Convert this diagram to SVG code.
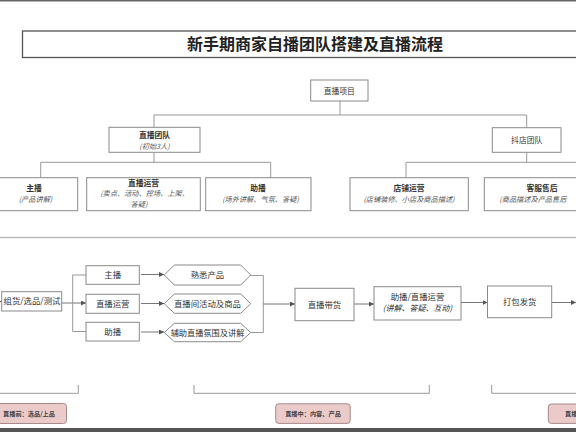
<svg xmlns="http://www.w3.org/2000/svg" width="576" height="432" viewBox="0 0 576 432">
<defs>
<marker id="ah" markerUnits="userSpaceOnUse" markerWidth="5" markerHeight="5" refX="5" refY="2.5" orient="auto">
<path d="M0,0 L5,2.5 L0,5 z" fill="#555"/>
</marker>
<style>
text{font-family:"Noto Sans CJK SC","Liberation Sans",sans-serif;fill:#333;text-anchor:middle}
.box{fill:#fff;stroke:#8a8a8a;stroke-width:1}
.t{font-size:7.8px;font-weight:700}
.s{font-size:7.2px;font-style:italic;fill:#555}
.f{font-size:8.4px}
.fi{font-size:8px;font-style:italic}
.ln{fill:none;stroke:#999;stroke-width:1}
.ar{fill:none;stroke:#777;stroke-width:1;marker-end:url(#ah)}
.lab{fill:#ebcaca;stroke:#a88a8a;stroke-width:1}
.lt{font-size:6.2px;font-weight:700;fill:#444}
</style>
</defs>
<rect width="576" height="432" fill="#fff"/>
<rect x="0" y="0" width="576" height="1.5" fill="#666"/>
<rect x="0" y="428" width="576" height="4" fill="#555"/>

<g id="title">
<rect x="22.5" y="31" width="560" height="26.5" fill="#fff" stroke="#555" stroke-width="1.3"/>
<text x="315" y="49.5" style="font-size:16px;font-weight:700;fill:#222">新手期商家自播团队搭建及直播流程</text>
</g>

<g id="connectors">
<path class="ln" d="M340,101 V115 M154,115 H526.7 M154,115 V127.3 M526.7,115 V127.5"/>
<path class="ln" d="M154,152.3 V162.3 M40.7,162.3 H270.7 M40.7,162.3 V177.7 M270.7,162.3 V177.7"/>
<path class="ln" d="M526.7,152.3 V162.3 M406,162.3 H576 M406,162.3 V177.7"/>
<line x1="0" y1="237.5" x2="576" y2="237.5" stroke="#bbb" stroke-width="1.5"/>
<path class="ar" d="M-6,301.5 H1.7"/>
<path class="ar" d="M61.7,303 H86"/>
<path class="ln" d="M86,275 H72.7 V331.5 H86"/>
<path class="ar" d="M141,274.5 H164"/>
<path class="ar" d="M141,303.5 H164"/>
<path class="ar" d="M141,332 H164"/>
<path class="ln" d="M250.7,275.5 H263.3 V332.5 H250.7"/>
<path class="ar" d="M263.3,304 H295"/>
<path class="ar" d="M354,304 H374"/>
<path class="ar" d="M461,302.5 H487.5"/>
<path class="ar" d="M551.7,302.5 H576"/>
<path class="ln" d="M0,393.3 H78.3 V385 M194,385 V393.3 H429.3 V385 M491.7,385 V393.3 H576"/>
</g>

<g id="n-project"><rect class="box" x="310.7" y="80" width="57.3" height="21"/><text class="t" x="339.3" y="93.5" style="font-weight:400">直播项目</text></g>
<g id="n-liveteam"><rect class="box" x="109" y="127.3" width="91" height="25"/><text class="t" x="154.5" y="138">直播团队</text><text class="s" x="154.5" y="148.8">(初始3人)</text></g>
<g id="n-shopteam"><rect class="box" x="492.3" y="127.7" width="68.7" height="24.6"/><text class="t" x="526.7" y="142.5" style="font-weight:400">抖店团队</text></g>

<g id="n-host"><rect class="box" x="-8" y="177.7" width="85.7" height="33"/><text class="t" x="34" y="191">主播</text><text class="s" x="35.5" y="202">(产品讲解)</text></g>
<g id="n-ops"><rect class="box" x="86.7" y="177.7" width="113.6" height="33"/><text class="t" x="143.5" y="185.8">直播运营</text><text class="s" x="144.5" y="196.2">(卖点、活动、控场、上架、</text><text class="s" x="139" y="207">答疑)</text></g>
<g id="n-assist"><rect class="box" x="205.7" y="177.7" width="105.3" height="33"/><text class="t" x="258" y="191">助播</text><text class="s" x="260.5" y="202">(场外讲解、气氛、答疑)</text></g>
<g id="n-shopops"><rect class="box" x="350" y="177.7" width="118.3" height="33"/><text class="t" x="409" y="191">店铺运营</text><text class="s" x="409" y="202">(店铺装修、小店及商品描述)</text></g>
<g id="n-service"><rect class="box" x="484.3" y="177.7" width="120" height="33"/><text class="t" x="542" y="191">客服售后</text><text class="s" x="499.3" y="202" style="text-anchor:start">(商品描述及产品售后</text></g>

<g id="f-select"><rect class="box" x="1.7" y="291.7" width="60" height="19.3"/><text class="f" x="32" y="304.3">组货/选品/测试</text></g>
<g id="f-host"><rect class="box" x="86" y="265.7" width="53.3" height="18.6"/><text class="f" x="112.7" y="278">主播</text></g>
<g id="f-ops"><rect class="box" x="86" y="294.3" width="53.3" height="19"/><text class="f" x="112.7" y="306.8">直播运营</text></g>
<g id="f-assist"><rect class="box" x="86" y="322.3" width="53.3" height="18.7"/><text class="f" x="112.7" y="334.7">助播</text></g>

<g id="h-know"><polygon class="box" points="164.3,275 174.3,265 240.7,265 250.7,275 240.7,285 174.3,285"/><text class="f" x="207.5" y="278">熟悉产品</text></g>
<g id="h-activity"><polygon class="box" points="164.3,303.7 174.3,294 240.7,294 250.7,303.7 240.7,313.3 174.3,313.3"/><text class="f" x="207.5" y="306.7">直播间活动及商品</text></g>
<g id="h-atmos"><polygon class="box" points="164.3,332.5 174.3,323.3 240.7,323.3 250.7,332.5 240.7,341.7 174.3,341.7"/><text class="f" x="207.5" y="335.5" style="font-size:8.2px">辅助直播氛围及讲解</text></g>

<g id="f-sell"><rect class="box" x="295" y="288.3" width="59" height="32.4"/><text class="f" x="324.5" y="307.5">直播带货</text></g>
<g id="f-interact"><rect class="box" x="374" y="286.7" width="87" height="33.3"/><text class="f" x="417.5" y="299.7">助播/直播运营</text><text class="fi" x="417.5" y="310.9">(讲解、答疑、互动)</text></g>
<g id="f-ship"><rect class="box" x="487.5" y="286" width="64.2" height="31.7"/><text class="f" x="519.7" y="305">打包发货</text></g>

<g id="l-pre"><rect class="lab" x="-8" y="403.5" width="74.5" height="20" rx="3"/><text class="lt" x="29" y="415.7">直播前：选品/上品</text></g>
<g id="l-mid"><rect class="lab" x="275.7" y="403.8" width="74.5" height="19.6" rx="3"/><text class="lt" x="313" y="415.8">直播中：内容、产品</text></g>
<g id="l-post"><rect class="lab" x="548.3" y="404" width="40" height="19.4" rx="3"/><text class="lt" x="565" y="415.8" style="text-anchor:start">直播</text></g>
</svg>
